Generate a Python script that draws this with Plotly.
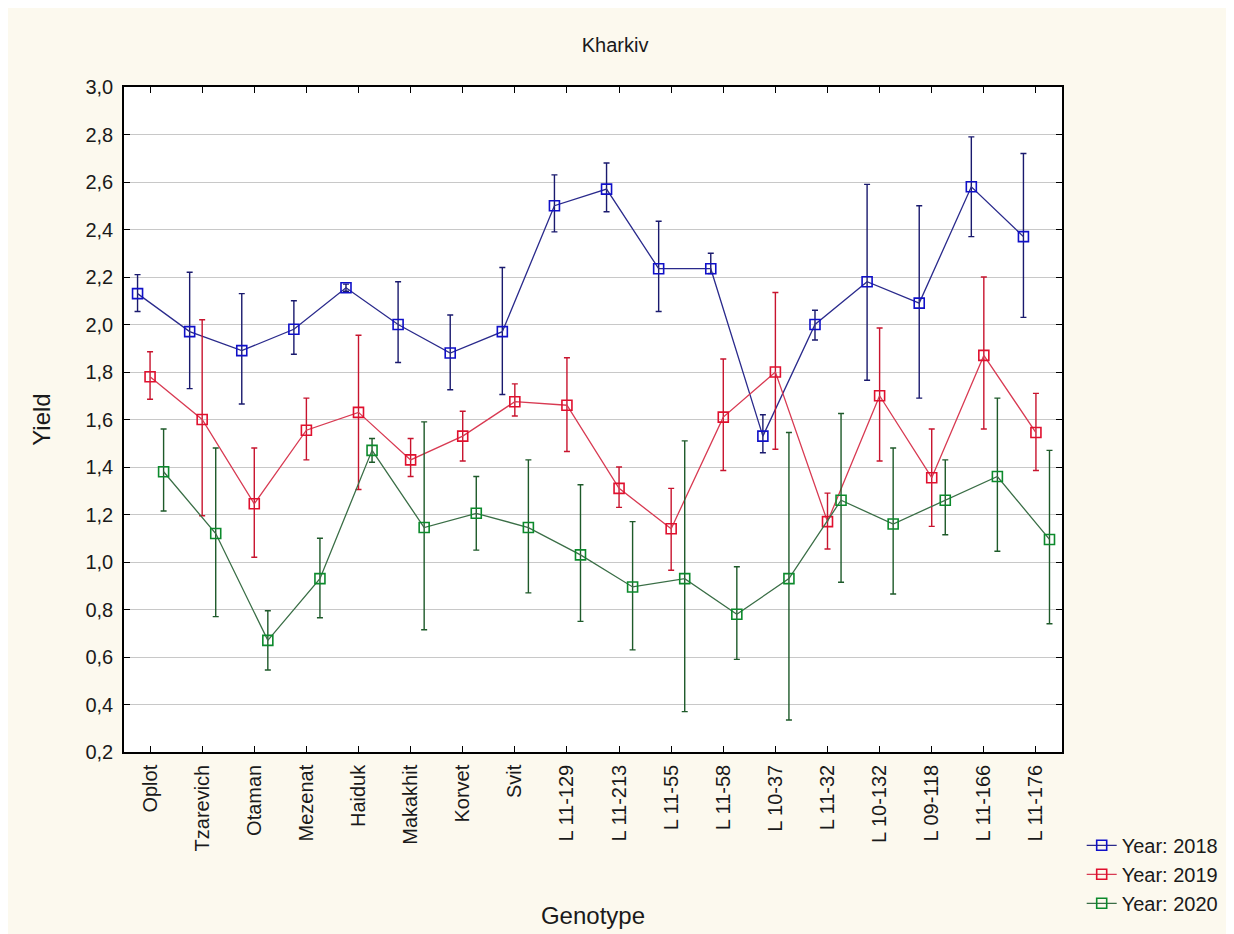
import plotly.graph_objects as go

genotypes = ["Oplot", "Tzarevich", "Otaman", "Mezenat", "Haiduk", "Makakhit", "Korvet", "Svit",
             "L 11-129", "L 11-213", "L 11-55", "L 11-58", "L 10-37", "L 11-32", "L 10-132",
             "L 09-118", "L 11-166", "L 11-176"]

y2018 = [2.13, 1.97, 1.89, 1.98, 2.155, 2.00, 1.88, 1.97, 2.50, 2.57, 2.235, 2.235, 1.53, 2.00, 2.18, 2.09, 2.58, 2.37]
hi2018 = [2.21, 2.22, 2.13, 2.10, 2.17, 2.18, 2.04, 2.24, 2.63, 2.68, 2.435, 2.30, 1.62, 2.06, 2.59, 2.50, 2.79, 2.72]
lo2018 = [2.055, 1.73, 1.665, 1.875, 2.14, 1.84, 1.725, 1.705, 2.39, 2.475, 2.055, 2.215, 1.46, 1.935, 1.765, 1.69, 2.37, 2.03]

y2019 = [1.78, 1.60, 1.245, 1.555, 1.63, 1.43, 1.53, 1.675, 1.66, 1.31, 1.14, 1.61, 1.80, 1.17, 1.70, 1.355, 1.87, 1.545]
hi2019 = [1.885, 2.02, 1.48, 1.69, 1.955, 1.52, 1.635, 1.75, 1.86, 1.40, 1.31, 1.855, 2.135, 1.29, 1.985, 1.56, 2.20, 1.71]
lo2019 = [1.685, 1.195, 1.02, 1.43, 1.305, 1.36, 1.425, 1.615, 1.465, 1.23, 0.965, 1.385, 1.475, 1.055, 1.425, 1.15, 1.56, 1.385]

y2020 = [1.38, 1.12, 0.67, 0.93, 1.47, 1.145, 1.205, 1.145, 1.03, 0.895, 0.93, 0.78, 0.93, 1.26, 1.16, 1.26, 1.36, 1.095]
hi2020 = [1.56, 1.48, 0.795, 1.10, 1.52, 1.59, 1.36, 1.43, 1.325, 1.17, 1.51, 0.98, 1.545, 1.625, 1.48, 1.43, 1.69, 1.47]
lo2020 = [1.215, 0.77, 0.545, 0.765, 1.42, 0.715, 1.05, 0.87, 0.75, 0.63, 0.37, 0.59, 0.335, 0.915, 0.865, 1.115, 1.045, 0.74]

series = [
    ("Year: 2018", y2018, hi2018, lo2018, -0.24, "#1010C8", "#2A2A8C", "#1A1A6E"),
    ("Year: 2019", y2019, hi2019, lo2019, 0.0, "#E0102E", "#D83A52", "#C8142E"),
    ("Year: 2020", y2020, hi2020, lo2020, 0.26, "#0C8A2C", "#3A6E46", "#1E5A2A"),
]

fig = go.Figure()
for name, ys, his, los, off, mcol, lcol, ecol in series:
    xs = [i + off for i in range(len(genotypes))]
    fig.add_trace(go.Scatter(
        x=xs, y=ys, name=name, mode="lines+markers",
        line=dict(color=lcol, width=1.3),
        marker=dict(symbol="square-open", size=10, color=mcol, line=dict(width=1.6, color=mcol)),
        error_y=dict(type="data", symmetric=False,
                     array=[h - v for h, v in zip(his, ys)],
                     arrayminus=[v - l for v, l in zip(ys, los)],
                     color=ecol, thickness=1.4, width=3),
    ))

fig.update_layout(
    width=1234, height=934,
    paper_bgcolor="#FCF9EE", plot_bgcolor="#FFFFFF",
    margin=dict(l=116, r=180, t=79, b=190),
    separators=", ",
    font=dict(family="Liberation Sans, Arial, sans-serif", size=20, color="#1a1a1a"),
    title=dict(text="Kharkiv", x=0.492, xanchor="center", y=0.960, yanchor="middle",
               font=dict(size=20, color="#1a1a1a")),
    legend=dict(x=1.021, xanchor="left", y=-0.111, yanchor="top", bgcolor="rgba(0,0,0,0)",
                font=dict(size=20), tracegroupgap=0, itemwidth=30),
    showlegend=True,
)
fig.update_xaxes(
    range=[-0.5, 17.5], tickmode="array", tickvals=list(range(len(genotypes))), ticktext=genotypes,
    tickangle=-90, ticks="inside", ticklen=6, tickcolor="#000", mirror="ticks",
    showline=True, linecolor="#000", linewidth=1.5, showgrid=False, zeroline=False,
    title=dict(text="Genotype", standoff=57), tickfont=dict(size=20), ticklabelstandoff=3,
)
fig.update_yaxes(
    range=[0.2, 3.0], tickmode="array", tickvals=[0.2 + 0.2 * k for k in range(15)],
    tickformat=".1f", ticks="inside", ticklen=6, tickcolor="#000", mirror="ticks",
    showline=True, linecolor="#000", linewidth=1.5, showgrid=True, gridcolor="#C8C8C8", gridwidth=1,
    zeroline=False, title=dict(text="Yield", standoff=28), tickfont=dict(size=20), ticklabelstandoff=5,
)

fig.write_html("out.html")
